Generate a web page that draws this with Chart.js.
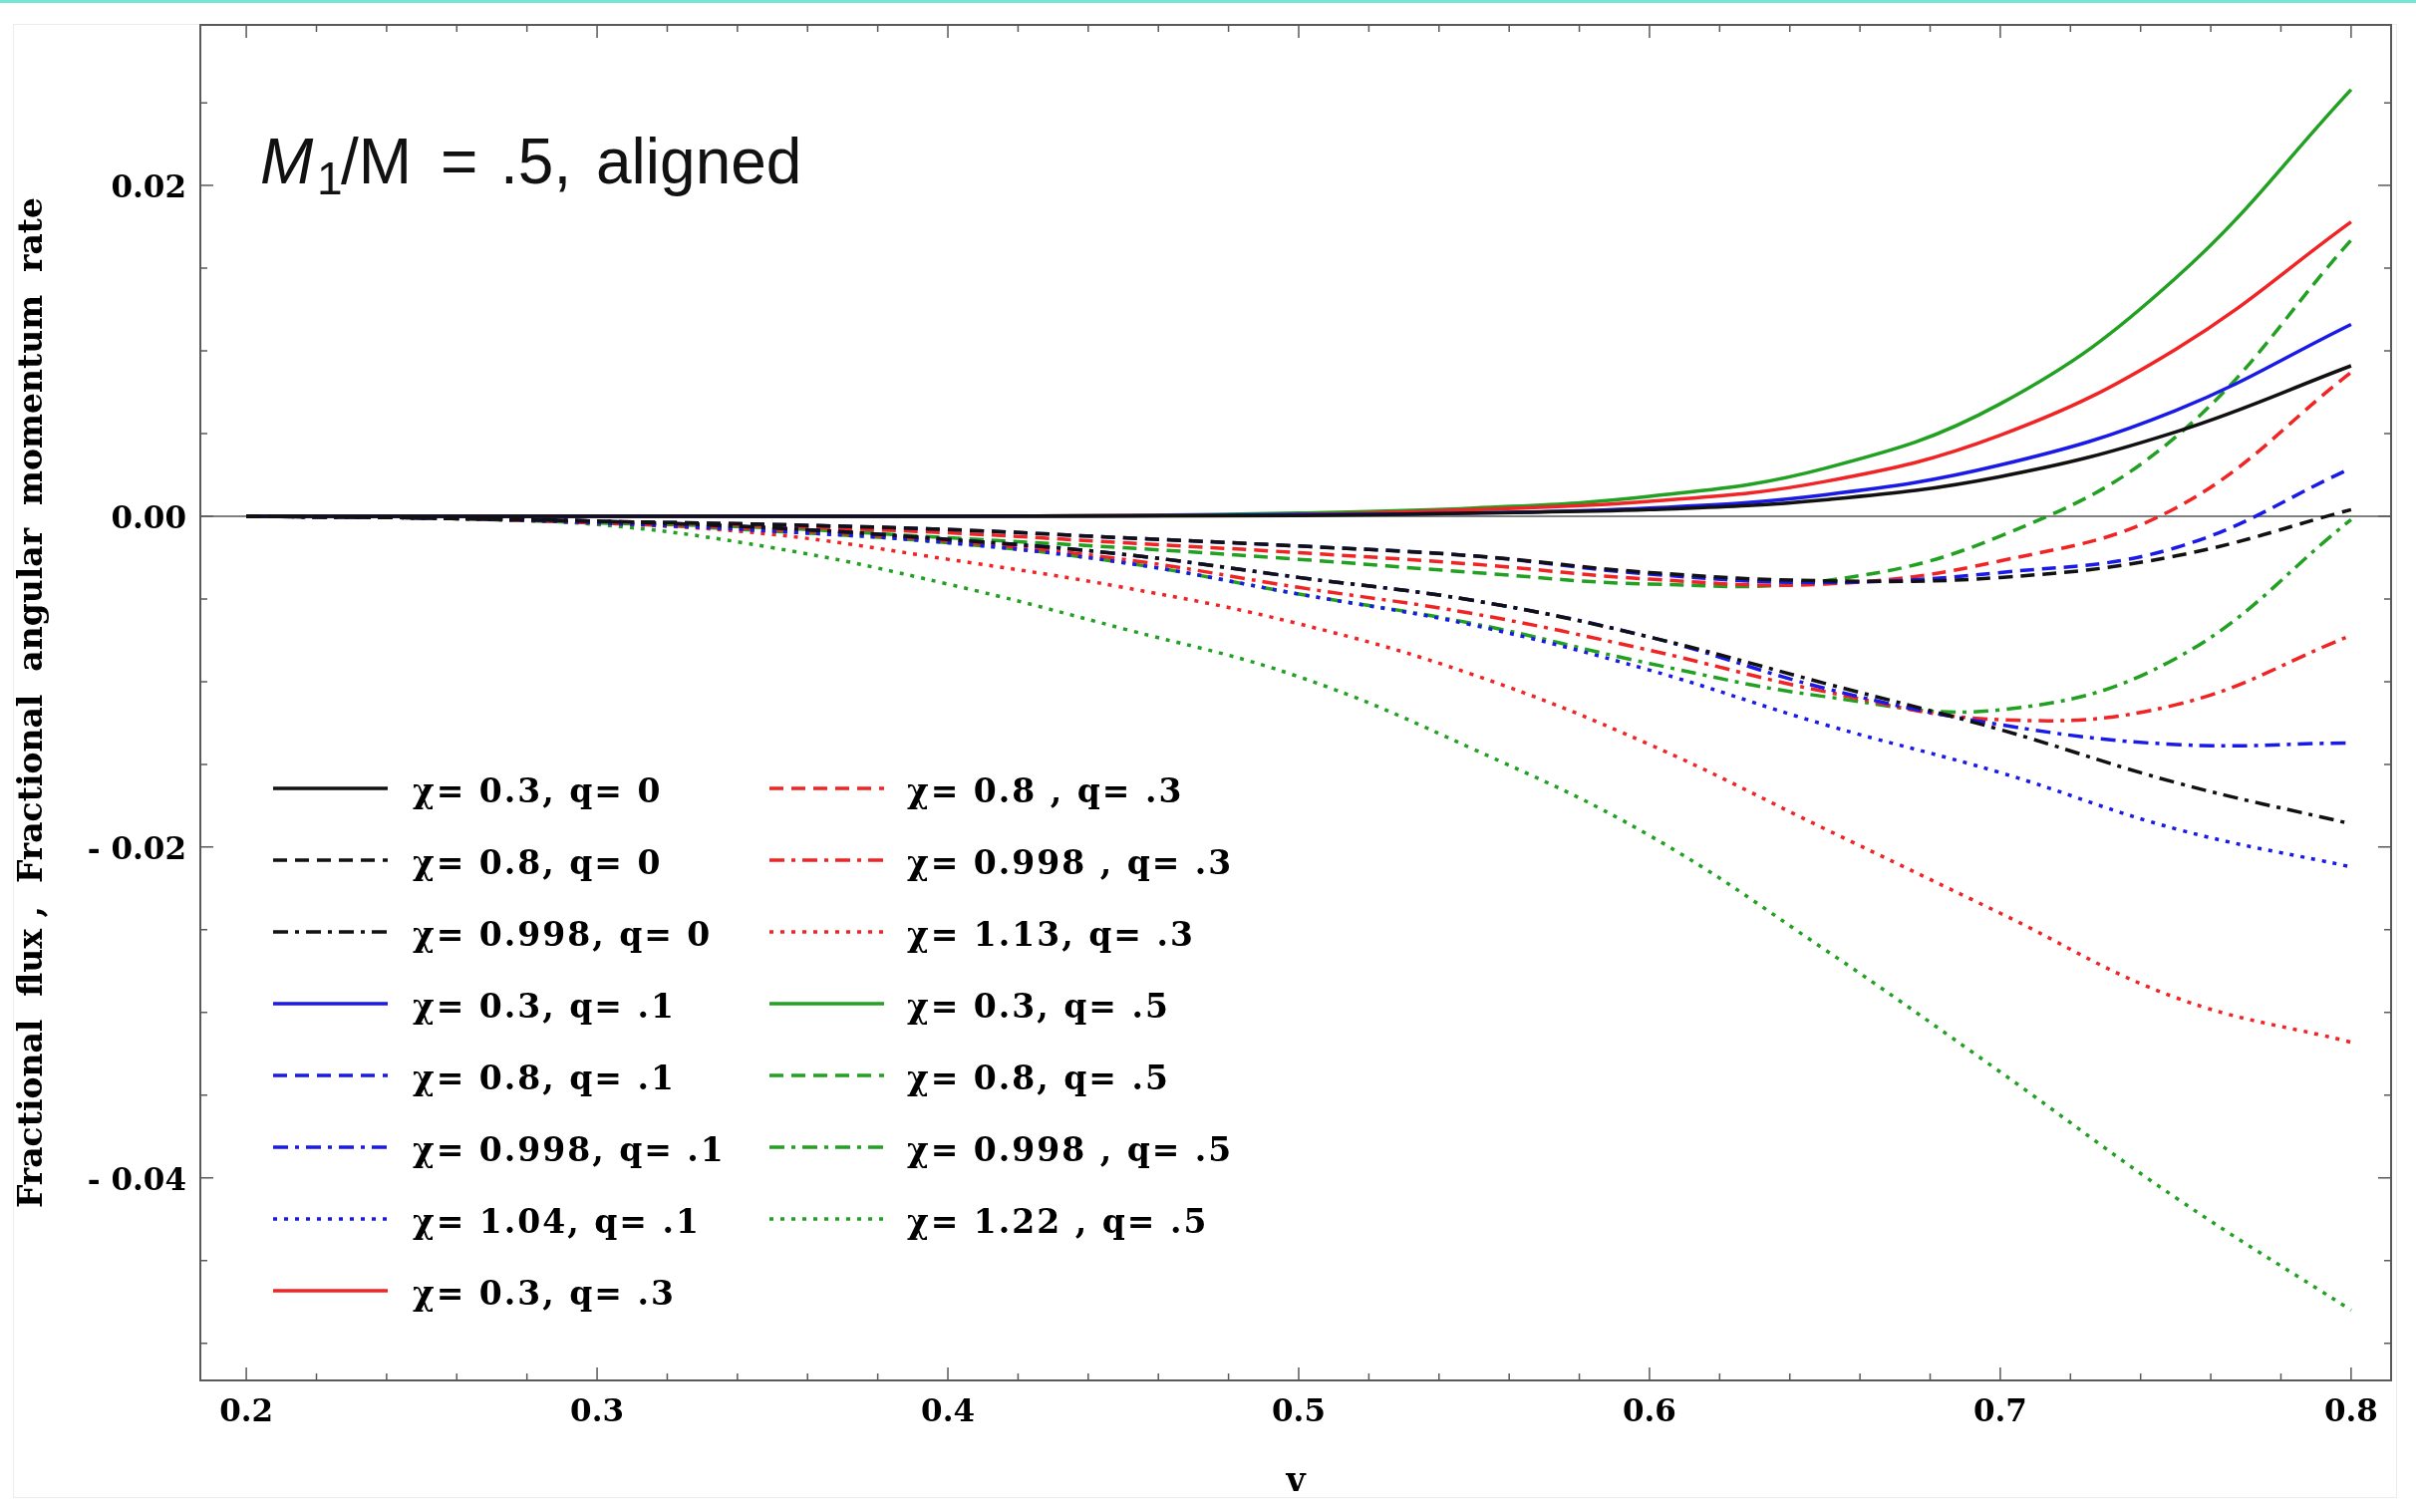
<!DOCTYPE html>
<html>
<head>
<meta charset="utf-8">
<script src="https://cdn.jsdelivr.net/npm/chart.js@4.4.1/dist/chart.umd.min.js"></script>
<style>
html, body { margin: 0; padding: 0; background: #fff; }
canvas { display: block; }
</style>
</head>
<body>
<canvas id="grafico" width="2424" height="1517"></canvas>
<script>
const vValues = [0.20, 0.25, 0.30, 0.35, 0.40, 0.45, 0.50, 0.55, 0.60, 0.65, 0.70, 0.75, 0.80];

const xTicks = [0.2, 0.3, 0.4, 0.5, 0.6, 0.7, 0.8];
const xTickLabels = ['0.2', '0.3', '0.4', '0.5', '0.6', '0.7', '0.8'];
const yTicks = [0.02, 0, -0.02, -0.04];
const yTickLabels = ['0.02', '0.00', '- 0.02', '- 0.04'];

// q = 0
const chi03_q0   = [0, 0, 0, 0, 0, 0.00002, 0.00005, 0.0002, 0.0004, 0.0010, 0.0024, 0.0051, 0.0091];
const chi08_q0   = [0, -0.0001, -0.0003, -0.0005, -0.0008, -0.0013, -0.0018, -0.0024, -0.0034, -0.0039, -0.0037, -0.0024, 0.0004];
const chi0998_q0 = [0, -0.0001, -0.0003, -0.0007, -0.0014, -0.0023, -0.0037, -0.0051, -0.0073, -0.0101, -0.0129, -0.0161, -0.0186];
// q = .1
const chi03_q1   = [0, 0, 0, 0, 0, 0.00003, 0.0001, 0.0002, 0.0005, 0.0013, 0.0031, 0.0064, 0.0116];
const chi08_q1   = [0, -0.0001, -0.0003, -0.0005, -0.0008, -0.0013, -0.0018, -0.0024, -0.0035, -0.0040, -0.0034, -0.0019, 0.0029];
const chi0998_q1 = [0, -0.0001, -0.0003, -0.0007, -0.0014, -0.0023, -0.0037, -0.0051, -0.0073, -0.0104, -0.0126, -0.0138, -0.0137];
const chi104_q1  = [0, -0.0001, -0.0004, -0.0009, -0.0016, -0.0028, -0.0047, -0.0066, -0.0093, -0.0126, -0.0155, -0.0189, -0.0212];
// q = .3
const chi03_q3   = [0, 0, 0, 0, 0.00001, 0.00004, 0.0001, 0.0004, 0.0009, 0.0021, 0.0049, 0.0101, 0.0178];
const chi08_q3   = [0, -0.0001, -0.0003, -0.0006, -0.0010, -0.0016, -0.0022, -0.0029, -0.0038, -0.0041, -0.0027, 0.0005, 0.0087];
const chi0998_q3 = [0, -0.0001, -0.0004, -0.0008, -0.0015, -0.0026, -0.0043, -0.0059, -0.0081, -0.0106, -0.0123, -0.0114, -0.0072];
const chi113_q3  = [0, -0.0001, -0.0004, -0.0011, -0.0026, -0.0043, -0.0065, -0.0096, -0.0138, -0.0189, -0.0240, -0.0291, -0.0318];
// q = .5
const chi03_q5   = [0, 0, 0, 0, 0.00001, 0.00005, 0.0002, 0.0005, 0.0012, 0.0029, 0.0068, 0.0144, 0.0258];
const chi08_q5   = [0, -0.0001, -0.0004, -0.0007, -0.0013, -0.0019, -0.0026, -0.0034, -0.0041, -0.0039, -0.0012, 0.0048, 0.0167];
const chi0998_q5 = [0, -0.0001, -0.0004, -0.0009, -0.0016, -0.0028, -0.0047, -0.0065, -0.0089, -0.0109, -0.0117, -0.0086, -0.0002];
const chi122_q5  = [0, -0.0001, -0.0005, -0.0019, -0.0041, -0.0068, -0.0097, -0.0141, -0.0193, -0.0262, -0.0336, -0.0412, -0.0480];

const BLACK = '#111111', BLUE = '#1a1ae6', RED = '#f02424', GREEN = '#22a022';
const SOLID = [], DASH = [14, 8], DASHDOT = [15, 7, 4, 7], DOT = [4, 7];

function serie(label, values, color, dash) {
    return {
        label: label,
        data: values.map((y, i) => ({ x: vValues[i], y: y })),
        borderColor: color,
        borderDash: dash,
        borderWidth: 3.5,
        pointRadius: 0,
        fill: false,
        tension: 0.4
    };
}

const datasets = [
    serie('\u03c7= 0.3, q= 0', chi03_q0, BLACK, SOLID),
    serie('\u03c7= 0.8, q= 0', chi08_q0, BLACK, DASH),
    serie('\u03c7= 0.998, q= 0', chi0998_q0, BLACK, DASHDOT),
    serie('\u03c7= 0.3, q= .1', chi03_q1, BLUE, SOLID),
    serie('\u03c7= 0.8, q= .1', chi08_q1, BLUE, DASH),
    serie('\u03c7= 0.998, q= .1', chi0998_q1, BLUE, DASHDOT),
    serie('\u03c7= 1.04, q= .1', chi104_q1, BLUE, DOT),
    serie('\u03c7= 0.3, q= .3', chi03_q3, RED, SOLID),
    serie('\u03c7= 0.8 , q= .3', chi08_q3, RED, DASH),
    serie('\u03c7= 0.998 , q= .3', chi0998_q3, RED, DASHDOT),
    serie('\u03c7= 1.13, q= .3', chi113_q3, RED, DOT),
    serie('\u03c7= 0.3, q= .5', chi03_q5, GREEN, SOLID),
    serie('\u03c7= 0.8, q= .5', chi08_q5, GREEN, DASH),
    serie('\u03c7= 0.998 , q= .5', chi0998_q5, GREEN, DASHDOT),
    serie('\u03c7= 1.22 , q= .5', chi122_q5, GREEN, DOT)
];

// frame, inward ticks, zero axis, title
const framePlugin = {
    id: 'frame',
    beforeDraw(chart) {
        const ctx = chart.ctx;
        ctx.save();
        ctx.fillStyle = '#fff';
        ctx.fillRect(0, 0, chart.width, chart.height);
        ctx.fillStyle = '#74e6d2';
        ctx.fillRect(0, 0, chart.width, 3);
        ctx.strokeStyle = '#ececec';
        ctx.lineWidth = 1;
        ctx.strokeRect(13.5, 24.5, 2391, 1478);
        ctx.restore();
    },
    beforeDatasetsDraw(chart) {
        const { ctx, chartArea: a, scales: { y } } = chart;
        const y0 = y.getPixelForValue(0);
        ctx.save();
        ctx.strokeStyle = '#808080';
        ctx.lineWidth = 2;
        ctx.beginPath();
        ctx.moveTo(a.left, y0);
        ctx.lineTo(a.right, y0);
        ctx.stroke();
        ctx.restore();
    },
    afterDraw(chart) {
        const { ctx, chartArea: a, scales: { x, y } } = chart;
        ctx.save();
        ctx.strokeStyle = '#5a5a5a';
        ctx.lineWidth = 2;
        ctx.strokeRect(a.left, a.top, a.right - a.left, a.bottom - a.top);
        ctx.lineWidth = 1.5;
        ctx.beginPath();
        for (let k = 0; k <= 30; k++) {
            const px = x.getPixelForValue(0.2 + k * 0.02);
            const len = k % 5 === 0 ? 13 : 7;
            ctx.moveTo(px, a.bottom); ctx.lineTo(px, a.bottom - len);
            ctx.moveTo(px, a.top); ctx.lineTo(px, a.top + len);
        }
        for (let k = -10; k <= 5; k++) {
            const py = y.getPixelForValue(k * 0.005);
            const len = k % 4 === 0 ? 13 : 7;
            ctx.moveTo(a.left, py); ctx.lineTo(a.left + len, py);
            ctx.moveTo(a.right, py); ctx.lineTo(a.right - len, py);
        }
        ctx.stroke();

        // title, piece by piece
        ctx.fillStyle = '#111';
        ctx.textBaseline = 'alphabetic';
        const ty = 184;
        ctx.font = 'italic 64px "Liberation Sans"';
        ctx.fillText('M', 261, ty);
        ctx.font = '46px "Liberation Sans"';
        ctx.fillText('1', 318, ty + 11);
        ctx.font = '64px "Liberation Sans"';
        ctx.fillText('/M', 342, ty);
        ctx.fillText('=', 442, ty);
        ctx.fillText('.5,', 502, ty);
        ctx.fillText('aligned', 598, ty);
        ctx.restore();
    }
};

// two-column legend inside the plot
const legendPlugin = {
    id: 'colLegend',
    afterDatasetsDraw(chart) {
        const ctx = chart.ctx;
        ctx.save();
        ctx.font = 'bold 33px "DejaVu Serif"';
        ctx.letterSpacing = '2px';
        ctx.fillStyle = '#000';
        ctx.textBaseline = 'alphabetic';
        chart.data.datasets.forEach((ds, i) => {
            const col = i < 8 ? 0 : 1;
            const row = i < 8 ? i : i - 8;
            const lx = col ? 772 : 274;
            const ly = 791 + row * 72;
            ctx.strokeStyle = ds.borderColor;
            ctx.lineWidth = ds.borderWidth;
            ctx.setLineDash(ds.borderDash);
            ctx.beginPath();
            ctx.moveTo(lx, ly);
            ctx.lineTo(lx + 115, ly);
            ctx.stroke();
            ctx.setLineDash([]);
            ctx.fillText(ds.label, lx + (col ? 138 : 140), ly + 14);
        });
        ctx.restore();
    }
};

const tickFont = { family: '"DejaVu Serif"', size: 31, weight: 'bold' };
const titleFont = { family: '"DejaVu Serif"', size: 33, weight: 'bold' };

const ctx = document.getElementById('grafico').getContext('2d');
const grafico = new Chart(ctx, {
    type: 'line',
    data: { datasets: datasets },
    options: {
        responsive: false,
        animation: false,
        devicePixelRatio: 1,
        layout: { padding: { left: 0, right: 25, top: 25, bottom: 0 } },
        plugins: {
            legend: { display: false },
            tooltip: { enabled: false }
        },
        scales: {
            x: {
                type: 'linear',
                min: 0.1869,
                max: 0.8114,
                grid: { display: false, drawTicks: false },
                border: { display: false },
                afterBuildTicks: s => { s.ticks = xTicks.map(v => ({ value: v })); },
                afterFit: s => { s.height = 132; s.paddingLeft = 0; s.paddingRight = 0; },
                ticks: {
                    padding: 14,
                    color: '#000',
                    font: tickFont,
                    maxRotation: 0,
                    autoSkip: false,
                    callback: v => xTickLabels[xTicks.indexOf(v)]
                },
                title: {
                    display: true,
                    text: 'v',
                    color: '#000',
                    font: titleFont,
                    padding: { top: 0, bottom: 10 }
                }
            },
            y: {
                min: -0.05225,
                max: 0.02971,
                grid: { display: false, drawTicks: false },
                border: { display: false },
                afterBuildTicks: s => { s.ticks = yTicks.map(v => ({ value: v })); },
                afterFit: s => { s.width = 201; s.paddingTop = 0; s.paddingBottom = 0; },
                ticks: {
                    padding: 14,
                    labelOffset: 4,
                    color: '#000',
                    font: tickFont,
                    autoSkip: false,
                    callback: v => yTickLabels[yTicks.indexOf(v)]
                },
                title: {
                    display: true,
                    text: 'Fractional  flux ,  Fractional  angular  momentum  rate',
                    color: '#000',
                    font: titleFont,
                    padding: { top: 14, bottom: 0 }
                }
            }
        }
    },
    plugins: [framePlugin, legendPlugin]
});
</script>
</body>
</html>
